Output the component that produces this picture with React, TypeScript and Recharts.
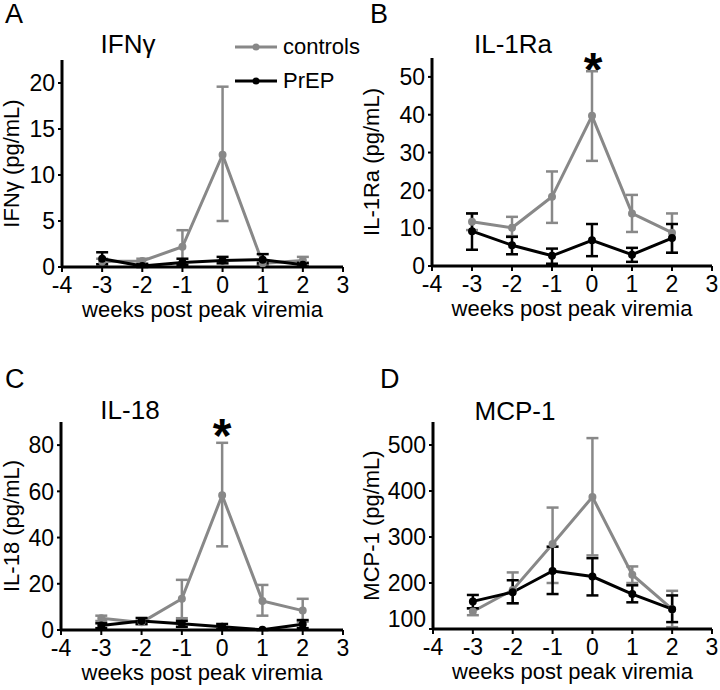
import React from 'react';
import { LineChart, Line, XAxis, YAxis, ErrorBar, Legend, Customized } from 'recharts';

const FONT = '"Liberation Sans", Arial, sans-serif';
const GRAY = '#888888';

// weeks relative to peak viremia
const weeks = [-3, -2, -1, 0, 1, 2];
const xTicks = [-4, -3, -2, -1, 0, 1, 2, 3];
const seriesOrder = ['controls', 'PrEP'];

// A - IFNγ
const ifnCtrl = [0.6, 0.65, 2.2, 12.2, 0.4, 0.7];
const ifnCtrlLo = [0.3, 0.4, 0.4, 5.0, 0.2, 0.3];
const ifnCtrlHi = [0.9, 0.9, 4.0, 19.6, 0.7, 1.1];
const ifnPrep = [0.9, 0.1, 0.5, 0.7, 0.8, 0.25];
const ifnPrepLo = [0.3, 0.0, 0.2, 0.4, 0.4, 0.05];
const ifnPrepHi = [1.6, 0.3, 0.9, 1.1, 1.4, 0.45];
const ifnTicks = [0, 5, 10, 15, 20];

// B - IL-1Ra
const il1Ctrl = [11.7, 10.1, 18.3, 39.7, 13.9, 8.8];
const il1CtrlLo = [9.5, 7.9, 11.4, 27.8, 9.0, 3.5];
const il1CtrlHi = [13.9, 13.0, 25.0, 51.5, 18.8, 13.9];
const il1Prep = [9.2, 5.5, 2.7, 6.8, 3.0, 7.4];
const il1PrepLo = [4.3, 3.1, 0.6, 2.6, 1.1, 3.5];
const il1PrepHi = [13.9, 7.7, 4.6, 11.1, 4.8, 11.1];
const il1Ticks = [0, 10, 20, 30, 40, 50];

// C - IL-18
const il18Ctrl = [5.1, 3.3, 13.5, 58.3, 12.6, 8.4];
const il18CtrlLo = [3.9, 2.5, 5.1, 36.2, 6.2, 3.6];
const il18CtrlHi = [6.2, 4.0, 21.7, 81.0, 19.5, 13.5];
const il18Prep = [1.9, 3.9, 2.7, 1.4, 0.1, 2.5];
const il18PrepLo = [0.8, 2.6, 1.4, 0.3, 0.0, 0.8];
const il18PrepHi = [2.9, 5.2, 4.0, 2.6, 0.3, 4.3];
const il18Ticks = [0, 20, 40, 60, 80];

// D - MCP-1
const mcpCtrl = [138, 185, 285, 387, 218, 143];
const mcpCtrlLo = [130, 156, 200, 260, 200, 104];
const mcpCtrlHi = [145, 223, 364, 515, 236, 183];
const mcpPrep = [160, 180, 226, 214, 176, 143];
const mcpPrepLo = [145, 156, 176, 173, 158, 115];
const mcpPrepHi = [174, 206, 279, 254, 195, 173];
const mcpTicks = [100, 200, 300, 400, 500];

// build rows with asymmetric error deltas for ErrorBar
const buildRows = (c: number[], cLo: number[], cHi: number[], p: number[], pLo: number[], pHi: number[]) =>
  weeks.map((w, i) => ({
    week: w,
    controls: c[i],
    controlsErr: [c[i] - cLo[i], cHi[i] - c[i]],
    prep: p[i],
    prepErr: [p[i] - pLo[i], pHi[i] - p[i]],
  }));

const LegendBox = (props: any) => {
  const items = [...(props.payload || [])].sort(
    (a: any, b: any) => seriesOrder.indexOf(a.value) - seriesOrder.indexOf(b.value)
  );
  return (
    <div style={{ fontFamily: FONT, fontSize: 22 }}>
      {items.map((entry: any) => (
        <div key={entry.value} style={{ display: 'flex', alignItems: 'center', height: 34 }}>
          <svg width={42} height={12} style={{ marginRight: 6 }}>
            <line x1={0} y1={6} x2={42} y2={6} stroke={entry.color} strokeWidth={3} />
            <circle cx={21} cy={6} r={3.5} fill={entry.color} />
          </svg>
          <span>{entry.value}</span>
        </div>
      ))}
    </div>
  );
};

interface PanelProps {
  rows: any[];
  domain: [number, number];
  yTicks: number[];
  top: number;
  right: number;
  yWidth: number;
  xHeight: number;
  letter: string;
  letterPos: [number, number];
  title: string;
  titlePos: [number, number];
  yLabel: string;
  star?: [number, number];
  legend?: boolean;
  raiseFirst?: boolean;
}

const Panel: React.FC<PanelProps> = (p) => {
  const yTick = (props: any) => {
    const { x, y, payload, index } = props;
    const dy = p.raiseFirst && index === 0 ? -10 : 0;
    return (
      <text x={x} y={y + dy} dy="0.36em" textAnchor="end" fontSize={23} fontFamily={FONT} fill="#000">
        {payload.value}
      </text>
    );
  };

  return (
    <LineChart
      width={360}
      height={345}
      data={p.rows}
      margin={{ top: p.top, right: p.right, bottom: 0, left: 0 }}
      style={{ fontFamily: FONT }}
    >
      <XAxis
        dataKey="week"
        type="number"
        domain={[-4, 3]}
        ticks={xTicks}
        height={p.xHeight}
        tickSize={5}
        tickMargin={5}
        axisLine={{ stroke: '#000', strokeWidth: 3 }}
        tickLine={{ stroke: '#000', strokeWidth: 2 }}
        tick={{ fill: '#000', fontSize: 23, fontFamily: FONT }}
        label={{
          content: (lp: any) => {
            const vb = lp.viewBox;
            return (
              <text x={vb.x + vb.width / 2} y={vb.y + 50} textAnchor="middle" fontSize={22} fontFamily={FONT} fill="#000">
                weeks post peak viremia
              </text>
            );
          },
        }}
      />
      <YAxis
        type="number"
        domain={p.domain}
        ticks={p.yTicks}
        width={p.yWidth}
        allowDataOverflow
        tickSize={4}
        tickMargin={3}
        axisLine={{ stroke: '#000', strokeWidth: 3 }}
        tickLine={{ stroke: '#000', strokeWidth: 2 }}
        tick={yTick}
        label={{
          content: (lp: any) => {
            const vb = lp.viewBox;
            return (
              <text
                transform={`translate(19, ${vb.y + vb.height / 2}) rotate(-90)`}
                textAnchor="middle"
                fontSize={22}
                fontFamily={FONT}
                fill="#000"
              >
                {p.yLabel}
              </text>
            );
          },
        }}
      />
      <Line
        name="controls"
        dataKey="controls"
        stroke={GRAY}
        strokeWidth={3}
        dot={{ r: 2.5, fill: GRAY, stroke: GRAY }}
        isAnimationActive={false}
      >
        <ErrorBar dataKey="controlsErr" direction="y" width={6} stroke={GRAY} strokeWidth={2.5} />
      </Line>
      <Line
        name="PrEP"
        dataKey="prep"
        stroke="#000"
        strokeWidth={3}
        dot={{ r: 2.5, fill: '#000', stroke: '#000' }}
        isAnimationActive={false}
      >
        <ErrorBar dataKey="prepErr" direction="y" width={6} stroke="#000" strokeWidth={2.5} />
      </Line>
      {p.legend && (
        <Legend
          layout="vertical"
          align="center"
          verticalAlign="middle"
          content={<LegendBox />}
          wrapperStyle={{ left: 235, top: 30, width: 125 }}
        />
      )}
      <Customized
        component={
          <g fontFamily={FONT} fill="#000">
            <text x={p.letterPos[0]} y={p.letterPos[1]} fontSize={27}>
              {p.letter}
            </text>
            <text x={p.titlePos[0]} y={p.titlePos[1]} fontSize={26} textAnchor="middle">
              {p.title}
            </text>
            {p.star && (
              <text x={p.star[0]} y={p.star[1]} fontSize={48} fontWeight="bold" textAnchor="middle">
                *
              </text>
            )}
          </g>
        }
      />
    </LineChart>
  );
};

const App: React.FC = () => {
  return (
    <div style={{ position: 'absolute', left: 0, top: 0, width: 720, height: 690, background: '#fff' }}>
      <div style={{ position: 'absolute', left: 0, top: 0 }}>
        <Panel
          rows={buildRows(ifnCtrl, ifnCtrlLo, ifnCtrlHi, ifnPrep, ifnPrepLo, ifnPrepHi)}
          domain={[0, 22.5]}
          yTicks={ifnTicks}
          top={60}
          right={17}
          yWidth={62}
          xHeight={78}
          letter="A"
          letterPos={[5, 23]}
          title="IFNγ"
          titlePos={[128, 53]}
          yLabel="IFNγ (pg/mL)"
          legend
        />
      </div>
      <div style={{ position: 'absolute', left: 360, top: 0 }}>
        <Panel
          rows={buildRows(il1Ctrl, il1CtrlLo, il1CtrlHi, il1Prep, il1PrepLo, il1PrepHi)}
          domain={[0, 55]}
          yTicks={il1Ticks}
          top={58}
          right={8}
          yWidth={72}
          xHeight={79}
          letter="B"
          letterPos={[10, 23]}
          title="IL-1Ra"
          titlePos={[153, 53]}
          yLabel="IL-1Ra (pg/mL)"
          star={[233, 86]}
        />
      </div>
      <div style={{ position: 'absolute', left: 0, top: 345 }}>
        <Panel
          rows={buildRows(il18Ctrl, il18CtrlLo, il18CtrlHi, il18Prep, il18PrepLo, il18PrepHi)}
          domain={[0, 90]}
          yTicks={il18Ticks}
          top={77}
          right={17}
          yWidth={61}
          xHeight={60}
          letter="C"
          letterPos={[5, 43]}
          title="IL-18"
          titlePos={[130, 74]}
          yLabel="IL-18 (pg/mL)"
          star={[222, 107]}
        />
      </div>
      <div style={{ position: 'absolute', left: 360, top: 345 }}>
        <Panel
          rows={buildRows(mcpCtrl, mcpCtrlLo, mcpCtrlHi, mcpPrep, mcpPrepLo, mcpPrepHi)}
          domain={[100, 550]}
          yTicks={mcpTicks}
          top={77}
          right={8}
          yWidth={73}
          xHeight={61}
          letter="D"
          letterPos={[20, 43]}
          title="MCP-1"
          titlePos={[155, 75]}
          yLabel="MCP-1 (pg/mL)"
          raiseFirst
        />
      </div>
    </div>
  );
};

export default App;
